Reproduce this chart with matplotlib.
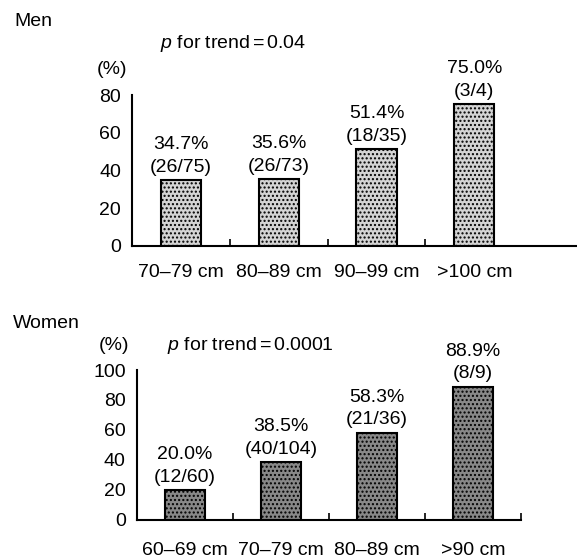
import matplotlib.pyplot as plt

plt.rcParams['font.family'] = ['Liberation Sans', 'DejaVu Sans']
plt.rcParams['mathtext.fontset'] = 'custom'
plt.rcParams['mathtext.it'] = 'Liberation Sans:italic'
plt.rcParams['mathtext.rm'] = 'Liberation Sans'

men_cats = ["70\u201379 cm", "80\u201389 cm", "90\u201399 cm", ">100 cm"]
men_pct = [34.7, 35.6, 51.4, 75.0]
men_n = ["26/75", "26/73", "18/35", "3/4"]

women_cats = ["60\u201369 cm", "70\u201379 cm", "80\u201389 cm", ">90 cm"]
women_pct = [20.0, 38.5, 58.3, 88.9]
women_n = ["12/60", "40/104", "21/36", "8/9"]

fs = 14

fig = plt.figure(figsize=(5.77, 5.59), dpi=100)


def panel(ax, cats, pct, n, color, ymax, xright, last_tick, pad):
    x = range(len(cats))
    ax.bar(x, pct, width=0.41, color=color, edgecolor='black', linewidth=1.5,
           hatch='....', zorder=2)
    for xi, p, c in zip(x, pct, n):
        ax.annotate("%.1f%%\n(%s)" % (p, c), (xi, p), xytext=(0, 3),
                    textcoords='offset points', ha='center', va='bottom',
                    fontsize=fs, linespacing=1.45, annotation_clip=False)
    ax.set_xlim(-0.5, xright)
    ax.set_ylim(0, ymax)
    ax.set_yticks(range(0, ymax + 1, 20))
    ax.set_xticks(list(x))
    ax.set_xticklabels(cats)
    minors = [0.5, 1.5, 2.5] + ([3.5] if last_tick else [])
    ax.set_xticks(minors, minor=True)
    ax.tick_params(axis='x', which='major', length=0, pad=pad, labelsize=fs)
    ax.tick_params(axis='x', which='minor', direction='in', length=5, width=1.2)
    ax.tick_params(axis='y', length=0, pad=8, labelsize=fs)
    for s in ['top', 'right']:
        ax.spines[s].set_visible(False)
    for s in ['left', 'bottom']:
        ax.spines[s].set_linewidth(1.5)


ax1 = fig.add_axes([0.2288, 0.560, 0.7712, 0.270])
panel(ax1, men_cats, men_pct, men_n, '#d4d4d4', 80, 4.05, False, 13)

ax2 = fig.add_axes([0.2374, 0.0698, 0.6656, 0.2683])
panel(ax2, women_cats, women_pct, women_n, '#888888', 100, 3.5, True, 16)

fig.text(14 / 577, 1 - 22 / 559, "Men", fontsize=fs, va='center')
fig.text(160 / 577, 1 - 43 / 559, r"$\it{p}$ for trend$\,$=$\,$0.04", fontsize=fs, va='center')
fig.text(97 / 577, 1 - 70 / 559, "(%)", fontsize=fs, va='center')

fig.text(13 / 577, 1 - 323 / 559, "Women", fontsize=fs, va='center')
fig.text(167 / 577, 1 - 345 / 559, r"$\it{p}$ for trend$\,$=$\,$0.0001", fontsize=fs, va='center')
fig.text(99 / 577, 1 - 345 / 559, "(%)", fontsize=fs, va='center')

fig.savefig("out.png", dpi=100)
